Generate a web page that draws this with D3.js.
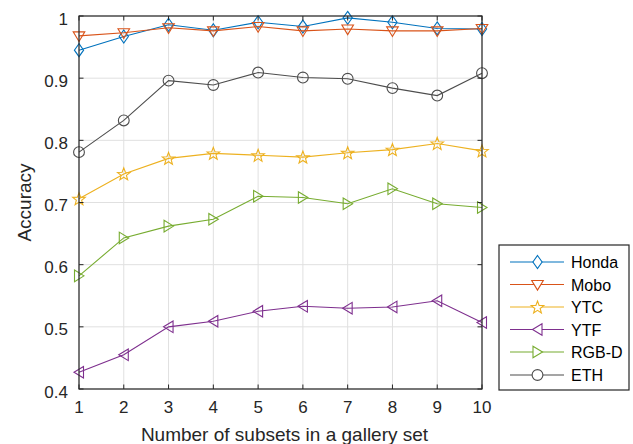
<!DOCTYPE html>
<html><head><meta charset="utf-8">
<script src="https://cdn.jsdelivr.net/npm/d3@7"></script>
<style>body{margin:0;background:#fff;} svg{display:block;font-family:"Liberation Sans",Arial,sans-serif;}</style>
</head><body>
<svg id="c" width="633" height="444"></svg>
<script>
const xValues = [1,2,3,4,5,6,7,8,9,10];
const yTicks = [0.4,0.5,0.6,0.7,0.8,0.9,1];
const seriesNames = ["Honda","Mobo","YTC","YTF","RGB-D","ETH"];
const honda = [0.945,0.967,0.986,0.977,0.990,0.983,0.997,0.990,0.980,0.979];
const mobo  = [0.968,0.973,0.981,0.976,0.983,0.976,0.979,0.976,0.976,0.980];
const ytc   = [0.706,0.746,0.771,0.779,0.776,0.773,0.780,0.785,0.795,0.783];
const ytf   = [0.427,0.455,0.500,0.509,0.525,0.533,0.530,0.532,0.542,0.507];
const rgbd  = [0.582,0.643,0.662,0.673,0.710,0.708,0.698,0.722,0.698,0.692];
const eth   = [0.781,0.832,0.896,0.889,0.909,0.901,0.899,0.884,0.872,0.908];
const colors = ["#0072BD","#D95319","#EDB120","#7E2F8E","#77AC30","#4D4D4D"];
const markers = ["diamond","down","star","left","right","circle"];
const seriesData = [honda,mobo,ytc,ytf,rgbd,eth];

const svg = d3.select("#c");
const L=79, R=482, T=16, B=389;
const x = d3.scaleLinear().domain([1,10]).range([L,R]);
const y = d3.scaleLinear().domain([0.4,1]).range([B,T]);

// grid
const g = svg.append("g");
g.selectAll(".vg").data(xValues).enter().append("line")
  .attr("x1",d=>x(d)).attr("x2",d=>x(d)).attr("y1",T).attr("y2",B)
  .attr("stroke","#e0e0e0").attr("stroke-width",1);
g.selectAll(".hg").data(yTicks).enter().append("line")
  .attr("x1",L).attr("x2",R).attr("y1",d=>y(d)).attr("y2",d=>y(d))
  .attr("stroke","#e0e0e0").attr("stroke-width",1);

function markerPath(type){
  switch(type){
    case "diamond": return `M0,-6.5L4.6,0L0,6.5L-4.6,0Z`;
    case "down": return `M-5.8,-4L5.8,-4L0,5.6Z`;
    case "left": return `M-5,0L4.5,-5.8L4.5,5.8Z`;
    case "right": return `M5,0L-4.5,-5.8L-4.5,5.8Z`;
    case "circle": return d3.symbol(d3.symbolCircle, Math.PI*5.4*5.4)();
    case "star": {
      const h=6.6; let p=[]; for(let i=0;i<10;i++){const r=i%2?h*0.42:h; const a=-Math.PI/2+i*Math.PI/5; p.push([r*Math.cos(a),r*Math.sin(a)+0.6]);}
      return "M"+p.map(q=>q[0].toFixed(2)+","+q[1].toFixed(2)).join("L")+"Z";
    }
  }
}

const line = d3.line().x((d,i)=>x(xValues[i])).y(d=>y(d));
seriesData.forEach((vals,si)=>{
  svg.append("path").attr("d",line(vals)).attr("fill","none")
    .attr("stroke",colors[si]).attr("stroke-width",1.1);
  svg.selectAll(null).data(vals).enter().append("path")
    .attr("transform",(d,i)=>`translate(${x(xValues[i])},${y(d)})`)
    .attr("d",markerPath(markers[si])).attr("fill","none")
    .attr("stroke",colors[si]).attr("stroke-width",1.1);
});

// axes
const ax = svg.append("g").attr("stroke","#262626").attr("fill","none");
ax.append("rect").attr("x",L).attr("y",T).attr("width",R-L).attr("height",B-T).attr("stroke-width",1.2);
const tk=4.5;
xValues.forEach(v=>{
  ax.append("line").attr("x1",x(v)).attr("x2",x(v)).attr("y1",B).attr("y2",B-tk);
  ax.append("line").attr("x1",x(v)).attr("x2",x(v)).attr("y1",T).attr("y2",T+tk);
});
yTicks.forEach(v=>{
  ax.append("line").attr("x1",L).attr("x2",L+tk).attr("y1",y(v)).attr("y2",y(v));
  ax.append("line").attr("x1",R).attr("x2",R-tk).attr("y1",y(v)).attr("y2",y(v));
});
svg.selectAll(".xt").data(xValues).enter().append("text")
  .attr("x",d=>x(d)).attr("y",B+24).attr("text-anchor","middle")
  .attr("font-size",17).attr("fill","#262626").text(d=>d);
svg.selectAll(".yt").data(yTicks).enter().append("text")
  .attr("x",L-11).attr("y",d=>y(d)+8.5).attr("text-anchor","end")
  .attr("font-size",17).attr("fill","#262626").text(d=>d);
svg.append("text").attr("x",(L+R)/2+4).attr("y",441).attr("text-anchor","middle")
  .attr("font-size",19).attr("fill","#262626").text("Number of subsets in a gallery set");
svg.append("text").attr("transform",`translate(31,${(T+B)/2}) rotate(-90)`).attr("text-anchor","middle")
  .attr("font-size",19).attr("fill","#262626").text("Accuracy");

// legend
const lg = svg.append("g");
lg.append("rect").attr("x",499).attr("y",245).attr("width",130).attr("height",145)
  .attr("fill","#fff").attr("stroke","#262626").attr("stroke-width",1.2);
const legY = [262,284.5,307,329.5,352,375];
seriesNames.forEach((n,i)=>{
  const yy=legY[i];
  lg.append("line").attr("x1",510).attr("x2",564).attr("y1",yy).attr("y2",yy).attr("stroke",colors[i]).attr("stroke-width",1.1);
  lg.append("path").attr("transform",`translate(537.5,${yy})`).attr("d",markerPath(markers[i])).attr("fill","#fff").attr("stroke",colors[i]).attr("stroke-width",1.1);
  lg.append("text").attr("x",571).attr("y",yy+6).attr("font-size",16).attr("fill","#000").text(n);
});
</script>
</body></html>
